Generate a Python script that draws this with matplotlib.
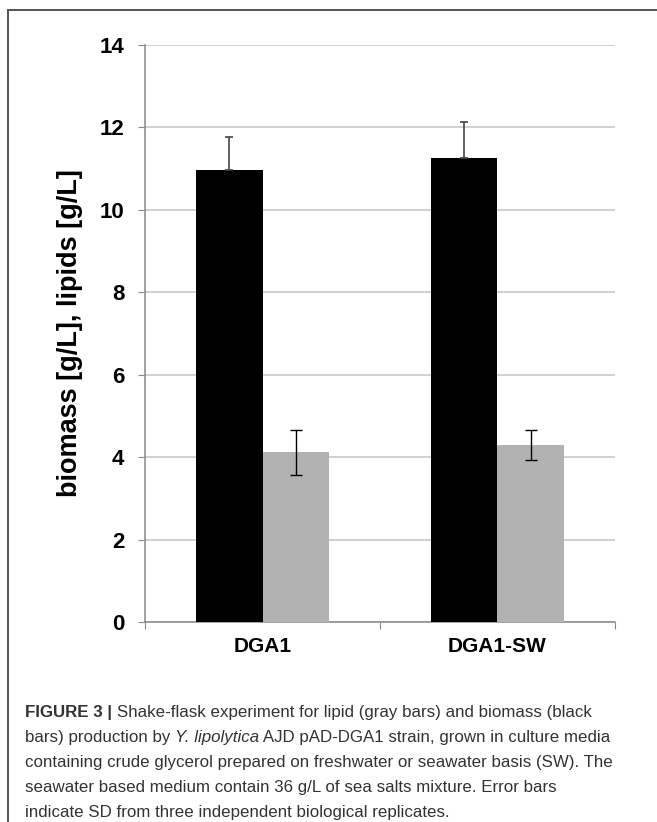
import numpy as np
import matplotlib
matplotlib.use("Agg")
import matplotlib.pyplot as plt
from matplotlib.lines import Line2D

# data
categories = ["DGA1", "DGA1-SW"]
biomass = [10.97, 11.25]
biomass_sd = [0.80, 0.87]
lipids = [4.12, 4.29]
lipids_sd = [0.55, 0.36]
y_ticks = [0, 2, 4, 6, 8, 10, 12, 14]

caption_lines = [
    [("FIGURE 3 | ", "bold", "normal"),
     ("Shake-flask experiment for lipid (gray bars) and biomass (black", "normal", "normal")],
    [("bars) production by ", "normal", "normal"), ("Y. lipolytica", "normal", "italic"),
     (" AJD pAD-DGA1 strain, grown in culture media", "normal", "normal")],
    [("containing crude glycerol prepared on freshwater or seawater basis (SW). The", "normal", "normal")],
    [("seawater based medium contain 36 g/L of sea salts mixture. Error bars", "normal", "normal")],
    [("indicate SD from three independent biological replicates.", "normal", "normal")],
]

plt.rcParams["font.family"] = ["Liberation Sans", "DejaVu Sans"]

W, H = 657, 822
fig = plt.figure(figsize=(W / 100, H / 100), dpi=100)

#frame around the figure panel
fig.add_artist(Line2D([8 / W, 1], [1 - 10 / H, 1 - 10 / H], color="#555555", lw=1.4))
fig.add_artist(Line2D([8 / W, 8 / W], [0, 1 - 10 / H], color="#555555", lw=1.4))

ax = fig.add_axes([145 / W, 1 - 622 / H, 470 / W, 577 / H])

x = np.arange(len(categories))
w = 0.285
ax.bar(x - w / 2, biomass, w, color="black", zorder=3)
ax.bar(x + w / 2, lipids, w, color="#b2b2b2", zorder=3)
ax.errorbar(x - w / 2, biomass, yerr=[[0, 0], biomass_sd], fmt="none",
            ecolor="#444444", elinewidth=1.2, capsize=3, capthick=1.2, zorder=4)
ax.errorbar(x + w / 2, lipids, yerr=lipids_sd, fmt="none",
            ecolor="black", elinewidth=1.0, capsize=4, capthick=1.0, zorder=4)

ax.set_xlim(-0.5, 1.5)
ax.set_ylim(0, 14)
ax.set_yticks(y_ticks)
ax.set_yticklabels([str(t) for t in y_ticks], fontsize=16, fontweight="bold")
ax.set_xticks([-0.5, 0.5, 1.5])
ax.set_xticklabels([])
ax.set_xticks(x, minor=True)
ax.set_xticklabels(categories, minor=True, fontsize=15, fontweight="bold")
ax.tick_params(axis="x", which="minor", length=0, pad=11)
ax.tick_params(axis="x", which="major", length=5, color="#888888", direction="out")
ax.tick_params(axis="y", length=5, color="#888888", pad=10)

ax.yaxis.grid(True, color="#c4c4c4", lw=1.1, zorder=0)
for side in ["top", "right"]:
    ax.spines[side].set_visible(False)
for side in ["left", "bottom"]:
    ax.spines[side].set_color("#888888")
    ax.spines[side].set_linewidth(1.1)

ax.set_ylabel("biomass [g/L], lipids [g/L]", fontsize=19.5, fontweight="bold", labelpad=12)

#caption, drawn segment by segment so bold/italic runs sit side by side
fig.canvas.draw()
renderer = fig.canvas.get_renderer()
y0 = 717
for i, line in enumerate(caption_lines):
    xpos = 25
    for txt, weight, style in line:
        t = fig.text(xpos / W, 1 - (y0 + i * 25) / H, txt, fontsize=12.2,
                     fontweight=weight, fontstyle=style, color="#333333",
                     va="baseline", ha="left")
        bb = t.get_window_extent(renderer=renderer)
        xpos += bb.width

fig.savefig("out.png", dpi=100)
